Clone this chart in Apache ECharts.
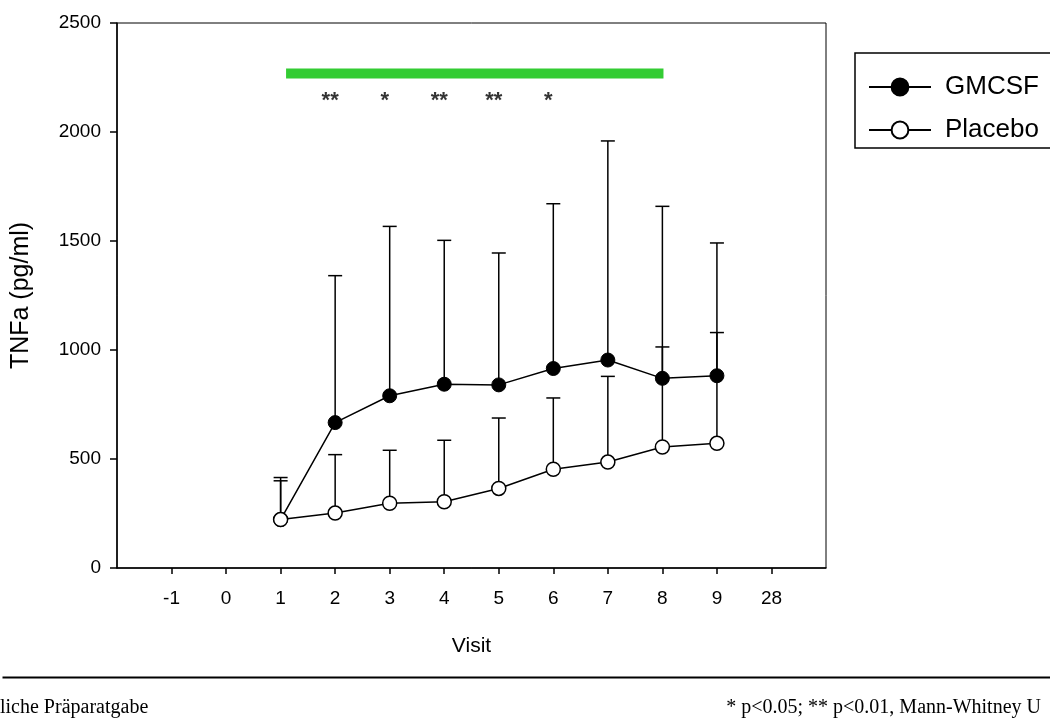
<!DOCTYPE html>
<html>
<head>
<meta charset="utf-8">
<script src="https://cdn.jsdelivr.net/npm/echarts@6/dist/echarts.min.js"></script>
<style>
html,body{margin:0;padding:0;background:#fff;}
#chart{width:1050px;height:727px;}
</style>
</head>
<body>
<div id="chart"></div>
<script>
// ---- data ----
const visitLabels = ['-1','0','1','2','3','4','5','6','7','8','9','28'];
const visitPos    = [-1, 0, 1, 2, 3, 4, 5, 6, 7, 8, 9, 10]; // axis slot for each label
const visits      = [1, 2, 3, 4, 5, 6, 7, 8, 9];
const gmcsfMean   = [222, 667, 790, 843, 840, 915, 954, 870, 882];
const gmcsfUpper  = [415, 1341, 1567, 1503, 1445, 1671, 1959, 1659, 1491];
const placeboMean = [222, 252, 297, 304, 365, 453, 486, 555, 572];
const placeboUpper= [400, 520, 540, 586, 688, 780, 879, 1014, 1080];
const yTicks      = [0, 500, 1000, 1500, 2000, 2500];
const sigBarFrom  = 1.1, sigBarTo = 8.02, sigBarLevel = 2268;
const starVisits  = [2, 3, 4, 5, 6];
const starMarks   = ['**', '*', '**', '**', '*'];
const starLevel   = 2160;

const sans = "'Liberation Sans', Arial, sans-serif";
const serif = "'Liberation Serif', 'Times New Roman', serif";

const chart = echarts.init(document.getElementById('chart'));

function errSeries(name, mean, upper) {
  return {
    name: name + ' err',
    type: 'custom',
    z: 2,
    silent: true,
    data: visits.map((v, i) => [v, mean[i], upper[i]]),
    renderItem: function (params, api) {
      const p0 = api.coord([api.value(0), api.value(1)]);
      const p1 = api.coord([api.value(0), api.value(2)]);
      const hw = 7;
      const st = { stroke: '#000', lineWidth: 1.5 };
      return {
        type: 'group',
        children: [
          { type: 'line', shape: { x1: p0[0], y1: p0[1], x2: p1[0], y2: p1[1] }, style: st },
          { type: 'line', shape: { x1: p1[0] - hw, y1: p1[1], x2: p1[0] + hw, y2: p1[1] }, style: st }
        ]
      };
    }
  };
}

const option = {
  animation: false,
  backgroundColor: '#fff',
  grid: { left: 117, top: 23, right: 224, bottom: 159, show: true, borderColor: '#000', borderWidth: 1 },
  legend: {
    data: ['GMCSF', 'Placebo'],
    orient: 'vertical',
    left: 855, top: 53,
    padding: [21, 40, 5, 13],
    itemWidth: 62, itemHeight: 21, itemGap: 17,
    borderColor: '#000', borderWidth: 1.5,
    textStyle: { color: '#000', fontSize: 26, fontFamily: sans, padding: [0, 0, 0, 9] }
  },
  xAxis: {
    type: 'value', min: -2, max: 11,
    name: 'Visit', nameLocation: 'middle', nameGap: 68,
    nameTextStyle: { color: '#000', fontSize: 21, fontFamily: sans },
    axisLine: { show: true, onZero: false, lineStyle: { color: '#000', width: 1.5 } },
    axisTick: { show: true, length: 6, customValues: visitPos, lineStyle: { color: '#000', width: 1.5 } },
    axisLabel: {
      color: '#000', fontSize: 19, fontFamily: sans, margin: 21,
      customValues: visitPos,
      formatter: v => visitLabels[visitPos.indexOf(v)]
    },
    splitLine: { show: false }
  },
  yAxis: {
    type: 'value', min: 0, max: 2500, interval: 500,
    name: 'TNFa (pg/ml)', nameLocation: 'middle', nameGap: 83,
    nameTextStyle: { color: '#000', fontSize: 25, fontFamily: sans },
    axisLine: { show: true, onZero: false, lineStyle: { color: '#000', width: 1.5 } },
    axisTick: { show: true, length: 7, customValues: yTicks, lineStyle: { color: '#000', width: 1.5 } },
    axisLabel: { color: '#000', fontSize: 19, fontFamily: sans, margin: 16, customValues: yTicks, formatter: v => String(v) },
    splitLine: { show: false }
  },
  series: [
    {
      name: 'sig',
      type: 'line', z: 1, silent: true, symbol: 'none',
      data: [[sigBarFrom, sigBarLevel], [sigBarTo, sigBarLevel]],
      lineStyle: { color: '#33cc33', width: 10, cap: 'butt' }
    },
    {
      name: 'stars',
      type: 'scatter', silent: true, symbolSize: 0,
      data: starVisits.map((v, i) => ({ value: [v, starLevel], mark: starMarks[i] })),
      label: {
        show: true, position: 'inside', offset: [-5, 4],
        formatter: p => p.data.mark,
        color: '#000', fontSize: 22, fontWeight: 'bold', fontFamily: sans
      }
    },
    errSeries('GMCSF', gmcsfMean, gmcsfUpper),
    errSeries('Placebo', placeboMean, placeboUpper),
    {
      name: 'GMCSF',
      type: 'line', z: 3,
      data: visits.map((v, i) => [v, gmcsfMean[i]]),
      symbol: 'circle', symbolSize: 14,
      lineStyle: { color: '#000', width: 1.5 },
      itemStyle: { color: '#000', borderColor: '#000', borderWidth: 1 }
    },
    {
      name: 'Placebo',
      type: 'line', z: 4,
      data: visits.map((v, i) => [v, placeboMean[i]]),
      symbol: 'circle', symbolSize: 14,
      lineStyle: { color: '#000', width: 1.5 },
      itemStyle: { color: '#fff', borderColor: '#000', borderWidth: 1.5 }
    }
  ],
  graphic: [
    { type: 'line', left: 0, top: 675, shape: { x1: 0, y1: 0, x2: 1050, y2: 0 }, style: { stroke: '#000', lineWidth: 2 } },
    { type: 'text', left: 0, top: 698, style: { text: 'liche Präparatgabe', fill: '#000', font: '20px ' + serif } },
    { type: 'text', right: 9, top: 698, style: { text: '* p<0.05; ** p<0.01, Mann-Whitney U', fill: '#000', font: '20px ' + serif } }
  ]
};
chart.setOption(option);
</script>
</body>
</html>
